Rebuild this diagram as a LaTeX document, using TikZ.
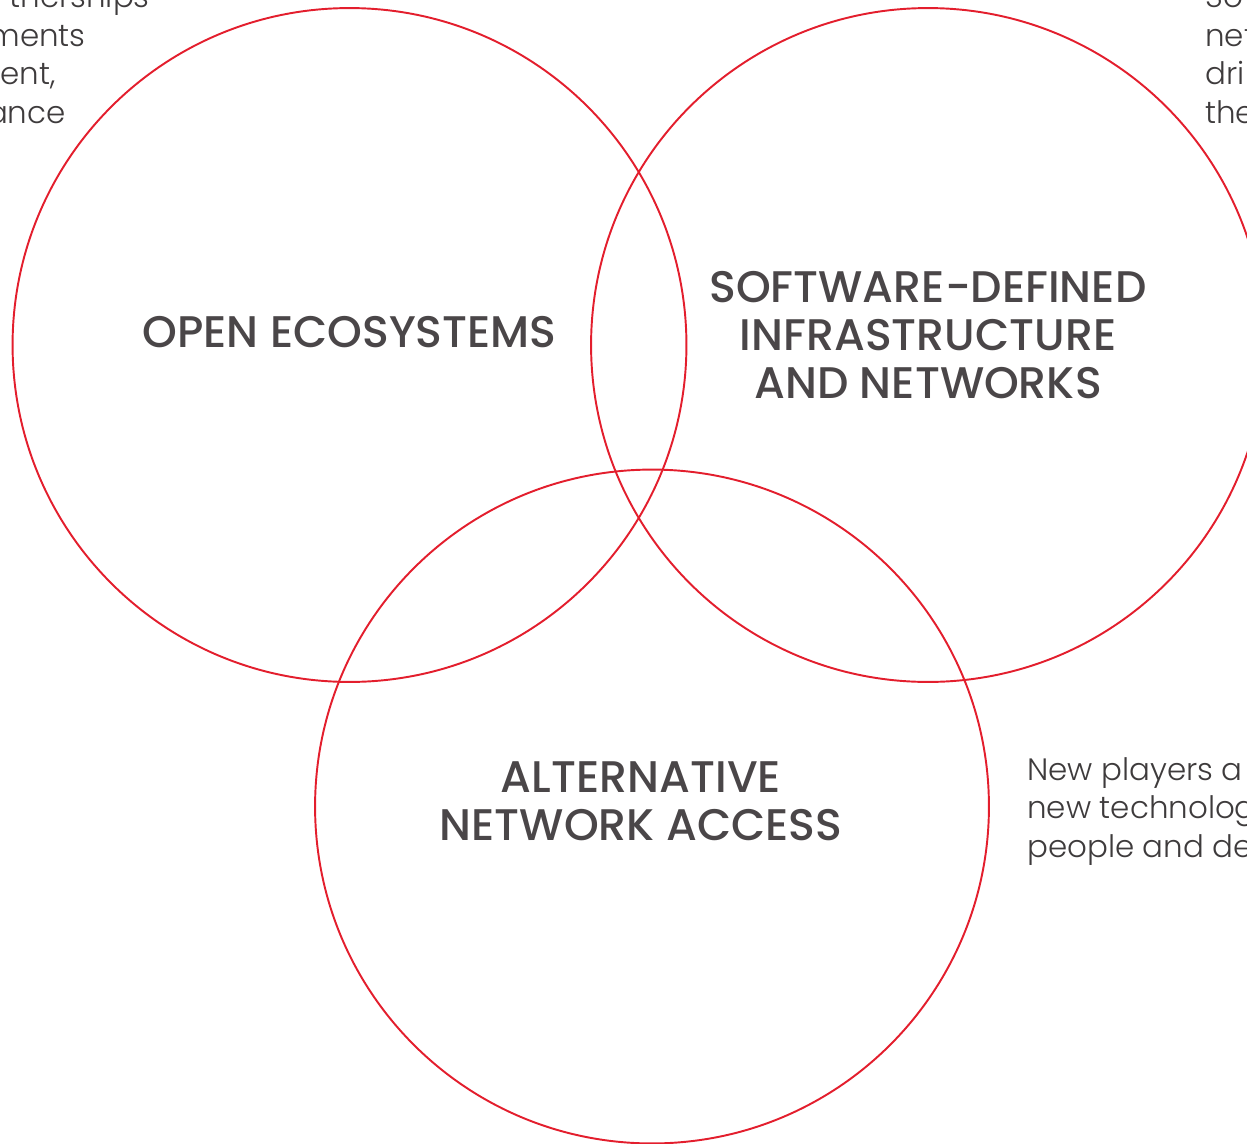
\documentclass[tikz,border=0pt]{standalone}
\usepackage{fontspec}
\setmainfont{Poppins}
\newfontfamily\titrefont{Poppins Medium}
\newfontfamily\textefont{Poppins Light}
\definecolor{VennRed}{HTML}{E31E2D}
\definecolor{TitleGrey}{HTML}{4A4648}
\definecolor{TextGrey}{HTML}{3E3B3C}

\tikzset{
  cercle/.style={color=VennRed, line width=1.1},
  titre/.style={color=TitleGrey, align=center, inner sep=0pt,
    font=\titrefont\fontsize{25.2}{27.2}\selectfont},
  texte/.style={color=TextGrey, align=left, inner sep=0pt,
    font=\textefont\fontsize{17.6}{21.8}\selectfont}
}

\begin{document}
\begin{tikzpicture}[x=0.02cm, y=-0.02cm]

 \useasboundingbox (0,0) rectangle (1247,1143);
 \clip (0,0) rectangle (1247,1143);

 %%%%%%%%%% Centres des cercles %%%%%%%%%%
 \coordinate (open) at (349.5,345);
 \coordinate (soft) at (928,345);
 \coordinate (alt) at (652,806.5);

 %%%%%%%%%% Cercles rouges %%%%%%%%%%
 \draw [cercle] (open) circle (6.74cm);
 \draw [cercle] (soft) circle (6.74cm);
 \draw [cercle] (alt) circle (6.74cm);

 %%%%%%%%%% Titres %%%%%%%%%%
 \node [titre] (opentitle) at (349.5,332) {OPEN ECOSYSTEMS};
 \node [titre] (softtitle) at (928,335) {SOFTWARE-DEFINED\\INFRASTRUCTURE\\AND NETWORKS};
 \node [titre] (alttitle) at (641,801) {ALTERNATIVE\\NETWORK ACCESS};

 % Texte coupe a gauche
 \node [texte, anchor=base east] (opentext1) at (150,7.5) {therships};
 \node [texte, anchor=base east] (opentext2) at (86,46) {ments};
 \node [texte, anchor=base east] (opentext3) at (56,84.5) {ent,};
 \node [texte, anchor=base east] (opentext4) at (66,123) {ance};

 % Texte coupe a droite
 \node [texte, anchor=base west] (softtext1) at (1205,7.5) {So};
 \node [texte, anchor=base west] (softtext2) at (1205,46) {net};
 \node [texte, anchor=base west] (softtext3) at (1205,84.5) {dri};
 \node [texte, anchor=base west] (softtext4) at (1205,123) {the};

 \node [texte, anchor=base west] (alttext1) at (1027,780) {New players a};
 \node [texte, anchor=base west] (alttext2) at (1027,818.5) {new technolog};
 \node [texte, anchor=base west] (alttext3) at (1027,857) {people and de};

\end{tikzpicture}
\end{document}
